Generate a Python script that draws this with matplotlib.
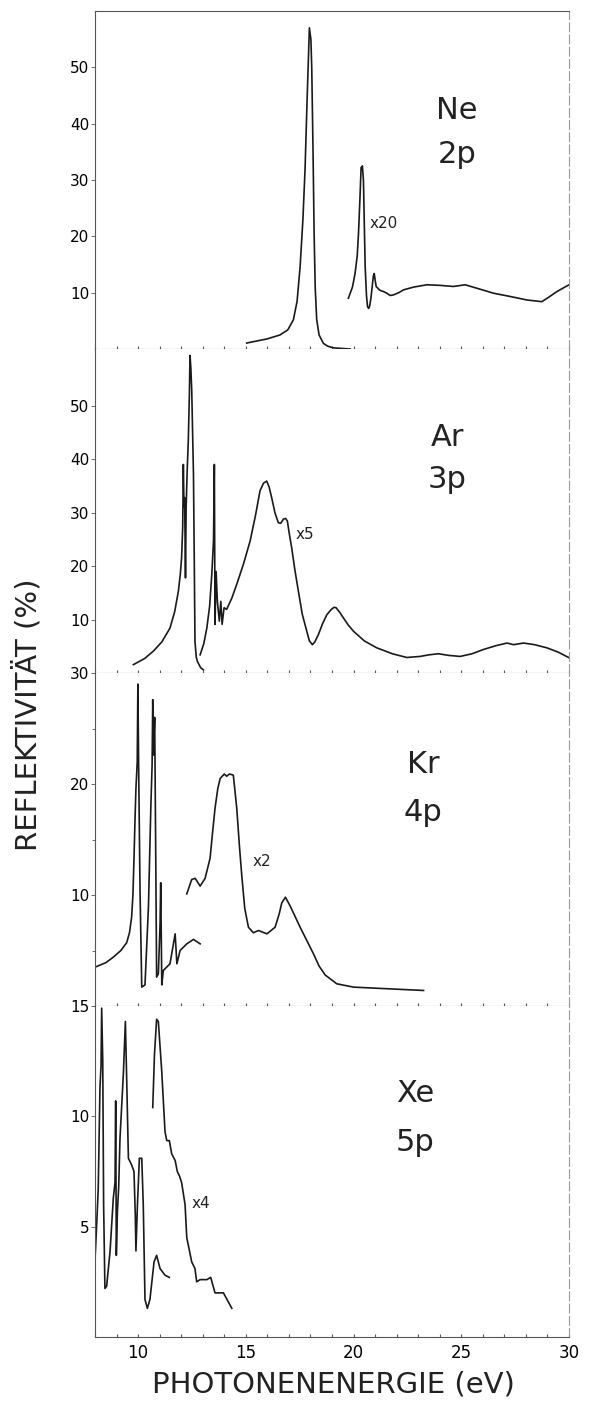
import matplotlib
matplotlib.use("Agg")
import matplotlib.pyplot as plt
from matplotlib.ticker import MultipleLocator, FixedLocator

plt.rcParams['font.family'] = ['DejaVu Sans']

# ---------------- data ----------------
ne_main_x = [15.04, 16.0, 16.59, 16.95, 17.21, 17.38, 17.52, 17.65, 17.75, 17.85, 17.95, 18.02,
             18.06, 18.12, 18.17, 18.22, 18.29, 18.4, 18.6, 18.8, 19.07, 19.84]
ne_main_y = [1.06, 1.8, 2.5, 3.4, 5.2, 8.5, 14.6, 23.0, 32.0, 45.0, 57.0, 55.0,
             49.9, 35.0, 20.5, 11.0, 5.2, 2.5, 1.0, 0.5, 0.2, 0.0]
ne_x20_x = [19.76, 19.95, 20.07, 20.17, 20.23, 20.3, 20.35, 20.41, 20.46, 20.5, 20.54, 20.6,
            20.65, 20.7, 20.74, 20.8, 20.85, 20.92, 20.96, 21.0, 21.05, 21.2, 21.3, 21.39,
            21.54, 21.7, 21.85, 22.1, 22.32, 22.8, 23.4, 24.0, 24.64, 25.18, 25.8, 26.5,
            27.3, 28.05, 28.74, 29.1, 29.44, 30.0]
ne_x20_y = [9.0, 11.0, 13.4, 16.5, 20.5, 27.0, 32.2, 32.5, 29.9, 22.0, 14.6, 9.5,
            7.5, 7.2, 7.5, 8.8, 10.5, 13.0, 13.4, 12.3, 11.1, 10.5, 10.3, 10.2,
            9.9, 9.5, 9.6, 10.0, 10.5, 11.0, 11.4, 11.3, 11.1, 11.4, 10.7, 9.9,
            9.3, 8.7, 8.4, 9.3, 10.2, 11.4]

ar_main_x = [9.78, 10.3, 10.71, 11.1, 11.48, 11.7, 11.87, 11.96, 12.02, 12.07, 12.10, 12.13,
             12.16, 12.20, 12.23, 12.28, 12.33, 12.38, 12.41, 12.45, 12.49, 12.53, 12.57, 12.61,
             12.64, 12.7, 12.75, 12.9, 13.03]
ar_main_y = [1.56, 2.7, 4.1, 5.8, 8.4, 11.5, 15.3, 18.5, 21.6, 27.2, 39.0, 31.0,
             32.8, 17.8, 31.0, 38.0, 43.4, 52.0, 59.4, 57.0, 52.8, 45.0, 37.2, 20.0,
             5.9, 3.0, 2.2, 1.0, 0.6]
ar_x5_x = [12.88, 13.05, 13.19, 13.32, 13.42, 13.50, 13.54, 13.57, 13.62, 13.68, 13.77, 13.84,
           13.9, 13.99, 14.11, 14.35, 14.58, 14.9, 15.2, 15.45, 15.66, 15.82, 15.97, 16.08,
           16.2, 16.35, 16.51, 16.62, 16.75, 16.85, 16.93, 17.02, 17.13, 17.28, 17.44, 17.62,
           17.83, 17.95, 18.09, 18.2, 18.37, 18.56, 18.76, 18.97, 19.1, 19.19, 19.35, 19.53,
           19.75, 20.0, 20.5, 21.08, 21.8, 22.47, 23.09, 23.5, 23.94, 24.4, 24.95, 25.5,
           26.03, 26.6, 27.12, 27.43, 27.89, 28.4, 28.98, 29.5, 29.98]
ar_x5_y = [3.4, 5.5, 8.4, 12.5, 18.4, 24.7, 39.0, 9.1, 19.0, 13.4, 9.7, 13.4,
           9.1, 12.2, 11.9, 14.0, 16.6, 20.5, 24.7, 29.5, 34.1, 35.5, 35.9, 34.8,
           32.8, 30.0, 28.1, 28.0, 28.8, 28.9, 28.4, 26.0, 23.4, 19.2, 15.3, 11.0,
           7.8, 6.0, 5.3, 5.8, 7.2, 9.2, 10.9, 11.9, 12.3, 12.2, 11.4, 10.3,
           9.0, 7.8, 6.0, 4.7, 3.6, 2.9, 3.1, 3.4, 3.6, 3.3, 3.1, 3.6,
           4.4, 5.1, 5.6, 5.3, 5.6, 5.3, 4.7, 3.9, 2.9]

kr_main_x = [8.0, 8.5, 8.85, 9.2, 9.47, 9.6, 9.70, 9.76, 9.81, 9.86, 9.90, 9.96, 9.99, 10.03,
             10.09, 10.17, 10.32, 10.48, 10.59, 10.65, 10.68, 10.71, 10.77, 10.82, 10.86, 10.94,
             11.02, 11.05, 11.1, 11.17, 11.48, 11.72, 11.8, 11.95, 12.26, 12.57, 12.88]
kr_main_y = [3.5, 3.9, 4.4, 5.0, 5.7, 6.6, 8.0, 10.0, 13.3, 17.0, 19.6, 22.0, 29.0, 20.8,
             10.4, 1.7, 1.9, 8.9, 17.8, 21.7, 27.6, 22.6, 26.0, 13.3, 2.6, 2.9,
             7.4, 11.1, 1.9, 3.2, 3.8, 6.5, 3.8, 5.0, 5.6, 6.0, 5.6]
kr_x2_x = [12.26, 12.49, 12.65, 12.88, 13.11, 13.34, 13.45, 13.57, 13.7, 13.81, 14.0, 14.11,
           14.24, 14.42, 14.58, 14.7, 14.81, 14.95, 15.12, 15.35, 15.59, 15.98, 16.36, 16.55,
           16.67, 16.84, 17.06, 17.52, 18.14, 18.4, 18.68, 19.22, 20.0, 21.08, 22.16, 23.25]
kr_x2_y = [10.1, 11.4, 11.5, 10.8, 11.5, 13.3, 15.5, 17.8, 19.6, 20.5, 20.9, 20.7,
           20.9, 20.8, 17.8, 14.5, 11.8, 8.8, 7.1, 6.6, 6.8, 6.5, 7.1, 8.3,
           9.3, 9.8, 9.0, 7.1, 4.7, 3.6, 2.8, 2.0, 1.7, 1.6, 1.5, 1.4]

xe_main_x = [8.0, 8.05, 8.15, 8.23, 8.28, 8.31, 8.36, 8.40, 8.46, 8.54, 8.7, 8.85, 8.93, 8.96,
             8.99, 9.04, 9.1, 9.16, 9.32, 9.41, 9.47, 9.55, 9.70, 9.81, 9.87, 9.9, 9.97, 10.06,
             10.17, 10.24, 10.32, 10.43, 10.55, 10.74, 10.86, 11.02, 11.25, 11.45]
xe_main_y = [3.5, 4.5, 6.7, 11.3, 12.3, 14.9, 12.5, 6.0, 2.2, 2.3, 3.9, 6.3, 7.0, 10.7,
             3.7, 5.7, 6.8, 9.0, 12.0, 14.3, 11.7, 8.1, 7.8, 7.5, 5.5, 3.9, 6.0, 8.1,
             8.1, 6.0, 1.7, 1.3, 1.7, 3.4, 3.7, 3.1, 2.8, 2.7]
xe_x4_x = [10.68, 10.76, 10.86, 10.94, 11.1, 11.25, 11.33, 11.45, 11.56, 11.72, 11.82, 11.92,
           12.02, 12.18, 12.26, 12.49, 12.64, 12.72, 12.88, 13.19, 13.37, 13.57, 13.8, 13.96, 14.35]
xe_x4_y = [10.4, 12.8, 14.4, 14.3, 12.0, 9.3, 8.9, 8.9, 8.3, 8.0, 7.5, 7.3,
           7.0, 6.0, 4.5, 3.4, 3.1, 2.5, 2.6, 2.6, 2.7, 2.0, 2.0, 2.0, 1.3]

panel_names = ["Ne", "Ar", "Kr", "Xe"]
panel_shells = ["2p", "3p", "4p", "5p"]
panel_factors = ["x20", "x5", "x2", "x4"]
panel_ylims = [(0, 60), (0, 60.6), (0, 30), (0, 15)]
panel_yticks = [[10, 20, 30, 40, 50], [10, 20, 30, 40, 50], [10, 20, 30], [5, 10, 15]]
x_ticks = [10, 15, 20, 25, 30]

curves = [
    [(ne_main_x, ne_main_y), (ne_x20_x, ne_x20_y)],
    [(ar_main_x, ar_main_y), (ar_x5_x, ar_x5_y)],
    [(kr_main_x, kr_main_y), (kr_x2_x, kr_x2_y)],
    [(xe_main_x, xe_main_y), (xe_x4_x, xe_x4_y)],
]

# ---------------- layout ----------------
W, H = 597, 1405
fig = plt.figure(figsize=(W / 100, H / 100), dpi=100)
left_px, right_px = 95, 569
bounds_px = [(11, 349), (349, 673), (673, 1006), (1006, 1337)]
name_pos = [(0.764, 0.707, 0.574), (0.743, 0.728, 0.596), (0.692, 0.724, 0.580), (0.675, 0.737, 0.589)]
factor_pos = [(0.580, 0.370), (0.424, 0.429), (0.333, 0.435), (0.203, 0.402)]

line_color = "#1a1a1a"
axis_color = "#555555"

for i, (top, bot) in enumerate(bounds_px):
    ax = fig.add_axes([left_px / W, 1 - bot / H, (right_px - left_px) / W, (bot - top) / H])
    for (x, y) in curves[i]:
        ax.plot(x, y, color=line_color, lw=1.2, solid_joinstyle='round')
    ax.set_xlim(8, 30)
    ax.set_ylim(*panel_ylims[i])

    ax.yaxis.set_major_locator(FixedLocator(panel_yticks[i]))
    if i == 2:
        ax.yaxis.set_minor_locator(MultipleLocator(5))
    ax.tick_params(axis='y', which='major', direction='out', length=3, width=0.6,
                   color=axis_color, labelsize=11, pad=1)
    ax.tick_params(axis='y', which='minor', direction='out', length=2, width=0.6, color=axis_color)

    ax.xaxis.set_major_locator(FixedLocator(x_ticks))
    ax.xaxis.set_minor_locator(MultipleLocator(1))
    ax.tick_params(axis='x', which='both', direction='in', length=2, width=0.8,
                   color=axis_color, labelsize=12, pad=5)
    if i < 3:
        ax.tick_params(axis='x', labelbottom=False)

    for s in ['left', 'bottom', 'top']:
        ax.spines[s].set_color(axis_color)
        ax.spines[s].set_linewidth(0.8)
    ax.spines['top'].set_visible(i == 0)
    ax.spines['right'].set_color("#999999")
    ax.spines['right'].set_linewidth(0.8)
    ax.spines['right'].set_linestyle((0, (8, 3)))

    nx, ny1, ny2 = name_pos[i]
    ax.text(nx, ny1, panel_names[i], transform=ax.transAxes, ha='center', va='center',
            fontsize=22, color="#222222")
    ax.text(nx, ny2, panel_shells[i], transform=ax.transAxes, ha='center', va='center',
            fontsize=22, color="#222222")
    fx, fy = factor_pos[i]
    ax.text(fx, fy, panel_factors[i], transform=ax.transAxes, ha='left', va='center',
            fontsize=11, color="#222222")

fig.text(28 / W, 1 - 715 / H, "REFLEKTIVITÄT (%)", rotation=90, ha='center', va='center',
         fontsize=21, color="#222222")
fig.text(333 / W, 1 - 1385 / H, "PHOTONENENERGIE (eV)", ha='center', va='center',
         fontsize=21, color="#222222")

fig.savefig("out.png", dpi=100)
